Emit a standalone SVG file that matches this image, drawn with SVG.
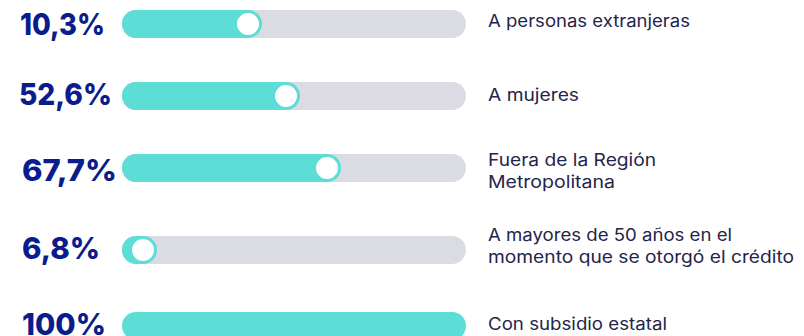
<svg xmlns="http://www.w3.org/2000/svg" width="804" height="336" viewBox="0 0 804 336">
<style>
.pct{font-family:Inter,"Liberation Sans",sans-serif;font-weight:800;font-size:30px;fill:#0B1D8C}
.lbl{font-family:Inter,"Liberation Sans",sans-serif;font-size:17px;fill:#24244A}
.track{fill:#DADBE3}
.fill{fill:#5CDDD6}
.knob{fill:#FFFFFF}
</style>
<rect width="804" height="336" fill="#FFFFFF"/>
<g id="row1">
<text class="pct" x="20" y="35" textLength="85" lengthAdjust="spacingAndGlyphs">10,3%</text>
<rect class="track" x="122" y="10" width="344" height="28" rx="14"/>
<rect class="fill" x="122" y="10" width="140" height="28" rx="14"/>
<circle class="knob" cx="248" cy="24" r="11"/>
<text class="lbl" x="488" y="27" textLength="202" lengthAdjust="spacingAndGlyphs">A personas extranjeras</text>
</g>
<g id="row2">
<text class="pct" x="19" y="105" textLength="93" lengthAdjust="spacingAndGlyphs">52,6%</text>
<rect class="track" x="122" y="82" width="344" height="28" rx="14"/>
<rect class="fill" x="122" y="82" width="178" height="28" rx="14"/>
<circle class="knob" cx="286" cy="96" r="11"/>
<text class="lbl" x="488" y="101" textLength="91" lengthAdjust="spacingAndGlyphs">A mujeres</text>
</g>
<g id="row3">
<text class="pct" x="22" y="181" textLength="95" lengthAdjust="spacingAndGlyphs">67,7%</text>
<rect class="track" x="122" y="154" width="344" height="28" rx="14"/>
<rect class="fill" x="122" y="154" width="219" height="28" rx="14"/>
<circle class="knob" cx="327" cy="168" r="11"/>
<text class="lbl" x="488" y="166" textLength="168" lengthAdjust="spacingAndGlyphs">Fuera de la Región</text>
<text class="lbl" x="488" y="188" textLength="127" lengthAdjust="spacingAndGlyphs">Metropolitana</text>
</g>
<g id="row4">
<text class="pct" x="22" y="259" textLength="78" lengthAdjust="spacingAndGlyphs">6,8%</text>
<rect class="track" x="122" y="236" width="344" height="28" rx="14"/>
<rect class="fill" x="122" y="236" width="35" height="28" rx="14"/>
<circle class="knob" cx="143" cy="250" r="11"/>
<text class="lbl" x="488" y="241" textLength="244" lengthAdjust="spacingAndGlyphs">A mayores de 50 años en el</text>
<text class="lbl" x="488" y="263" textLength="306" lengthAdjust="spacingAndGlyphs">momento que se otorgó el crédito</text>
</g>
<g id="row5">
<text class="pct" x="22" y="335" textLength="84" lengthAdjust="spacingAndGlyphs">100%</text>
<rect class="fill" x="122" y="312" width="344" height="28" rx="14"/>
<text class="lbl" x="488" y="330" textLength="179" lengthAdjust="spacingAndGlyphs">Con subsidio estatal</text>
</g>
</svg>
